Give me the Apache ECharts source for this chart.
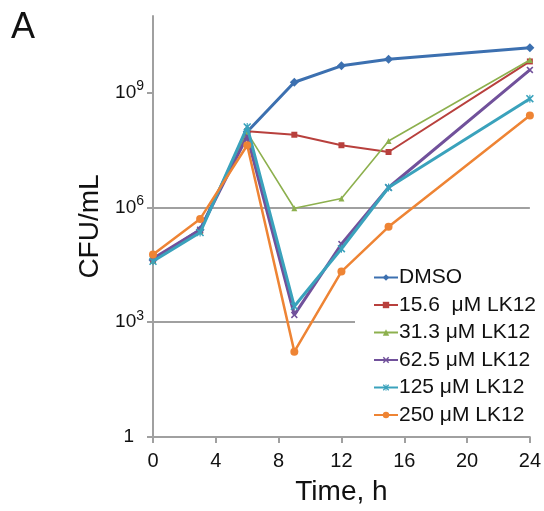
<!DOCTYPE html>
<html>
<head>
<meta charset="utf-8">
<script src="https://cdn.jsdelivr.net/npm/echarts@6/dist/echarts.min.js"></script>
<style>
  html, body { margin: 0; padding: 0; background: #fff; }
  #chart { width: 544px; height: 511px; }
</style>
</head>
<body>
<div id="chart"></div>
<script>
// time points (h)
const hours = [0, 3, 6, 9, 12, 15, 24];

// CFU/mL
const dmso   = [4.2e4, 2.6e5, 9.5e7, 1.86e9, 5.0e9, 7.4e9, 1.48e10];
const lk15_6 = [4.2e4, 2.4e5, 9.8e7, 7.9e7, 4.2e7, 2.8e7, 6.5e9];
const lk31_3 = [4.0e4, 2.4e5, 9.0e7, 9.5e5, 1.7e6, 5.4e7, 7.1e9];
const lk62_5 = [4.6e4, 2.6e5, 7.2e7, 1.55e3, 1.1e5, 3.3e6, 3.9e9];
const lk125  = [3.9e4, 2.2e5, 1.26e8, 2.6e3, 8.3e4, 3.3e6, 6.9e8];
const lk250  = [5.9e4, 5.0e5, 4.2e7, 1.7e2, 2.1e4, 3.1e5, 2.5e8];

const seriesNames = ['DMSO', '15.6  μM LK12', '31.3 μM LK12', '62.5 μM LK12', '125 μM LK12', '250 μM LK12'];
const yTicks = [1, 1e3, 1e6, 1e9];

const xMark = 'path://M0,1.6L1.6,0L5,3.4L8.4,0L10,1.6L6.6,5L10,8.4L8.4,10L5,6.6L1.6,10L0,8.4L3.4,5Z';
const starMark = 'path://M0,1.4L1.4,0L4.3,2.9L4.3,0L5.7,0L5.7,2.9L8.6,0L10,1.4L6.4,5L10,8.6L8.6,10L5.7,7.1L5.7,10L4.3,10L4.3,7.1L1.4,10L0,8.6L3.6,5Z';

const styles = [
  { data: dmso,   color: '#3C70B0', width: 3,   symbol: 'diamond',  size: 9 },
  { data: lk15_6, color: '#B8403D', width: 2,   symbol: 'rect',     size: 6 },
  { data: lk31_3, color: '#8DB04E', width: 1.6, symbol: 'triangle', size: 6 },
  { data: lk62_5, color: '#71519B', width: 3,   symbol: xMark,      size: 7 },
  { data: lk125,  color: '#3AA2BC', width: 3,   symbol: starMark,   size: 8 },
  { data: lk250,  color: '#EE8434', width: 2.5, symbol: 'circle',   size: 8 }
];

const chart = echarts.init(document.getElementById('chart'));
const font = 'Liberation Sans, Arial, sans-serif';

chart.setOption({
  backgroundColor: '#fff',
  animation: false,
  textStyle: { fontFamily: font },
  title: {
    text: 'A', left: 6, top: 5,
    textStyle: { fontSize: 36, fontWeight: 'normal', color: '#111', fontFamily: font }
  },
  grid: { left: 153, right: 14, top: 16, bottom: 72 },
  legend: {
    orient: 'vertical',
    left: 355, top: 265,
    padding: [2, 4, 2, 18],
    backgroundColor: '#fff',
    itemWidth: 24, itemHeight: 8, itemGap: 6.5,
    textStyle: { fontSize: 21, color: '#111', fontFamily: font, padding: [0, 0, 0, -4] },
    data: seriesNames
  },
  xAxis: {
    type: 'value', min: 0, max: 24, interval: 4,
    name: 'Time, h', nameLocation: 'middle', nameGap: 41,
    nameTextStyle: { fontSize: 28, color: '#111', fontFamily: font },
    axisLine: { lineStyle: { color: '#a0a0a0', width: 2 } },
    axisTick: { length: 6, lineStyle: { color: '#a0a0a0', width: 2 } },
    axisLabel: { fontSize: 20, color: '#111', margin: 14, fontFamily: font },
    splitLine: { show: false }
  },
  yAxis: {
    type: 'log', logBase: 10, min: 1, max: 1e11,
    name: 'CFU/mL', nameLocation: 'middle', nameGap: 44,
    nameTextStyle: { fontSize: 28, color: '#111', fontFamily: font },
    axisLine: { lineStyle: { color: '#a0a0a0', width: 2 } },
    axisTick: { customValues: yTicks, length: 6, lineStyle: { color: '#a0a0a0', width: 2 } },
    axisLabel: {
      customValues: yTicks,
      fontSize: 19, color: '#111', margin: 9, fontFamily: font,
      formatter: function (v) {
        const e = Math.round(Math.log10(v));
        if (e === 0) return '{one|1}';
        return '10{sup|' + e + '}';
      },
      rich: {
        sup: { fontSize: 14, color: '#111', padding: [0, 0, 13, 0], fontFamily: font },
        one: { fontSize: 19, color: '#111', padding: [0, 10, 0, 0], fontFamily: font }
      }
    },
    splitLine: { show: true, showMaxLine: false, lineStyle: { color: '#a0a0a0', width: 2 } }
  },
  series: styles.map(function (s, i) {
    return {
      name: seriesNames[i],
      type: 'line',
      data: hours.map(function (h, j) { return [h, s.data[j]]; }),
      symbol: s.symbol,
      symbolSize: s.size,
      showAllSymbol: true,
      itemStyle: { color: s.color },
      lineStyle: { color: s.color, width: s.width },
      z: 2 + i
    };
  })
});
</script>
</body>
</html>
